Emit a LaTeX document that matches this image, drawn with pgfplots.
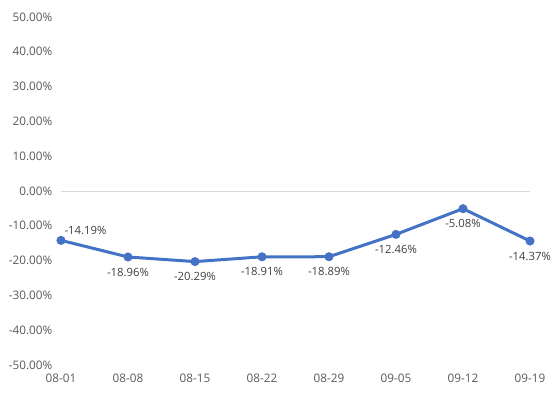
\documentclass[border=0pt]{standalone}
\usepackage{pgfplots}
\pgfplotsset{compat=1.18}
\usepackage{fontspec}
\setmainfont{Open Sans}
\definecolor{lineblue}{HTML}{4472C4}
\definecolor{ticktext}{HTML}{595959}
\definecolor{labeltext}{HTML}{404040}
\definecolor{gridc}{HTML}{D9D9D9}
\begin{document}
\begin{tikzpicture}[x=1pt,y=1pt]
\begin{axis}[
  name=ax,
  scale only axis,
  width=351.75pt, height=261pt,
  xmin=0, xmax=7, ymin=-50, ymax=50,
  axis line style={draw=none},
  major tick length=0pt,
  xtick={0,...,7},
  xticklabels={08-01,08-08,08-15,08-22,08-29,09-05,09-12,09-19},
  ytick={-50,-40,...,50},
  yticklabels={-50.00\%,-40.00\%,-30.00\%,-20.00\%,-10.00\%,0.00\%,10.00\%,20.00\%,30.00\%,40.00\%,50.00\%},
  tick label style={font=\fontsize{8.8pt}{10pt}\selectfont, text=ticktext},
  yticklabel style={anchor=east, xshift=-3pt},
  xticklabel style={anchor=north, yshift=-3pt},
  clip=false,
]
\draw[gridc, line width=0.6pt] (axis cs:0,0) -- (axis cs:7,0);
\addplot[lineblue, line width=2.25pt, mark=*, mark size=2.2pt, mark options={fill=lineblue, draw=lineblue}]
  coordinates {(0,-14.19) (1,-18.96) (2,-20.29) (3,-18.91) (4,-18.89) (5,-12.46) (6,-5.08) (7,-14.37)};
\addplot[draw=none, mark=none, point meta=explicit symbolic,
  nodes near coords,
  every node near coord/.append style={anchor=north, yshift=-7pt, inner sep=1pt, text=labeltext, font=\fontsize{8.5pt}{10pt}\selectfont}]
  coordinates {(1,-18.96) [-18.96\%] (2,-20.29) [-20.29\%] (3,-18.91) [-18.91\%] (4,-18.89) [-18.89\%] (5,-12.46) [-12.46\%] (6,-5.08) [-5.08\%] (7,-14.37) [-14.37\%]};
\addplot[draw=none, mark=none, point meta=explicit symbolic,
  nodes near coords,
  every node near coord/.append style={anchor=south west, xshift=1.5pt, yshift=3pt, inner sep=1pt, text=labeltext, font=\fontsize{8.5pt}{10pt}\selectfont}]
  coordinates {(0,-14.19) [-14.19\%]};
\end{axis}
\path[use as bounding box] ([xshift=-45.75pt,yshift=-22.5pt]ax.south west) rectangle ([xshift=18pt,yshift=12.75pt]ax.north east);
\end{tikzpicture}
\end{document}
